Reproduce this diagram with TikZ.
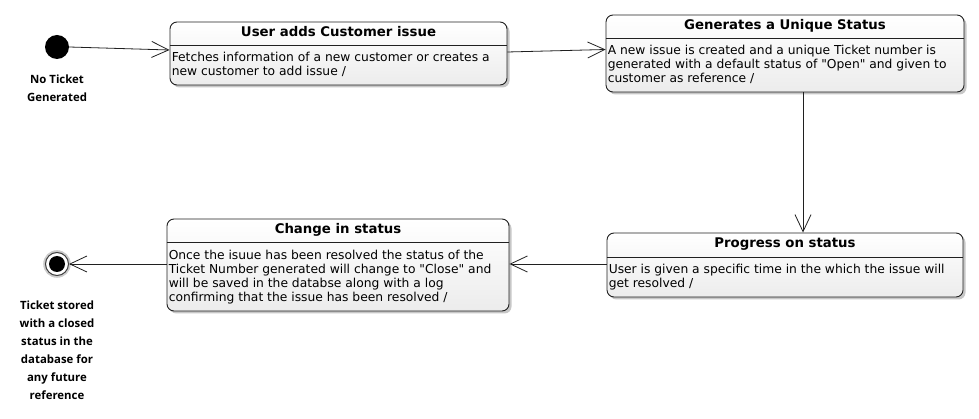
\documentclass[tikz,border=0pt]{standalone}
\usepackage{fontspec}
\setmainfont{DejaVu Sans}
\newfontfamily\labelfont{Open Sans}
\usetikzlibrary{arrows.meta,calc,shadows}
\definecolor{linec}{HTML}{202020}
\definecolor{boxbot}{HTML}{ECECEC}
\tikzset{
  statebox/.style={draw=linec, line width=0.9pt, rounded corners=7pt,
    top color=white, bottom color=boxbot, inner sep=0pt,
    drop shadow={shadow xshift=2.5pt, shadow yshift=-2.5pt, opacity=0.22, fill=black}},
  titletext/.style={anchor=base, inner sep=0pt, font=\fontsize{13.3}{16}\selectfont\bfseries},
  bodytext/.style={anchor=north west, inner sep=0pt, align=left, font=\fontsize{12.3}{14.2}\selectfont},
  lbl/.style={align=center, inner sep=0pt, font=\labelfont\fontsize{11.4}{18}\selectfont\bfseries},
  arr/.style={draw=linec, line width=0.8pt, -{Straight Barb[length=17pt,width=16pt,line width=0.8pt]}},
  divline/.style={draw=linec, line width=0.8pt}
}
\begin{document}
\begin{tikzpicture}[x=1pt,y=-1pt]
\useasboundingbox (0,0) rectangle (979,419);
% initial state
\node[circle, fill=black, minimum size=24pt, inner sep=0pt] (init) at (57,47) {};
\node[lbl] (initlbl) at (57,88) {No Ticket\\Generated};
% final state
\node[circle, draw=black!75, line width=1pt, fill=white, minimum size=23pt, inner sep=0pt,
  drop shadow={shadow xshift=0pt, shadow yshift=0pt, shadow scale=1.2, opacity=0.2, fill=black}] (final) at (57,264) {};
\node[circle, fill=black, minimum size=16pt, inner sep=0pt] (finalin) at (final) {};
\node[lbl, anchor=north] (finallbl) at (57,301) {Ticket stored\\with a closed\\status in the\\database for\\any future\\reference};
% box 1
\node[statebox, minimum width=337pt, minimum height=63pt] (b1) at (338.5,53.5) {};
\draw[divline] ($(b1.north west)+(0,24)$) -- ($(b1.north east)+(0,24)$);
\node[titletext] (t1) at ($(b1.north)+(0,14.5)$) {User adds Customer issue};
\node[bodytext] (d1) at ($(b1.north west)+(2,30.5)$) {Fetches information of a new customer or creates a\\new customer to add issue /};
% box 2
\node[statebox, minimum width=358pt, minimum height=77pt] (b2) at (785,53.5) {};
\draw[divline] ($(b2.north west)+(0,24)$) -- ($(b2.north east)+(0,24)$);
\node[titletext] (t2) at ($(b2.north)+(0,14.5)$) {Generates a Unique Status};
\node[bodytext] (d2) at ($(b2.north west)+(2,30.5)$) {A new issue is created and a unique Ticket number is\\generated with a default status of \textquotedbl Open\textquotedbl\ and given to\\customer as reference /};
% box 4
\node[statebox, minimum width=356pt, minimum height=64pt] (b4) at (785,265) {};
\draw[divline] ($(b4.north west)+(0,25)$) -- ($(b4.north east)+(0,25)$);
\node[titletext] (t4) at ($(b4.north)+(0,15)$) {Progress on status};
\node[bodytext] (d4) at ($(b4.north west)+(2,31.5)$) {User is given a specific time in the which the issue will\\get resolved /};
% box 3
\node[statebox, minimum width=342pt, minimum height=92pt] (b3) at (338,265) {};
\draw[divline] ($(b3.north west)+(0,24)$) -- ($(b3.north east)+(0,24)$);
\node[titletext] (t3) at ($(b3.north)+(0,14.5)$) {Change in status};
\node[bodytext] (d3) at ($(b3.north west)+(2,31)$) {Once the isuue has been resolved the status of the\\Ticket Number generated will change to \textquotedbl Close\textquotedbl\ and\\will be saved in the databse along with a log\\confirming that the issue has been resolved /};
% connectors
\draw[arr] (init.east) -- ($(b1.west)+(0,-3.5)$);
\draw[arr] ($(b1.east)+(0,-1.5)$) -- ($(b2.west)+(0,-4)$);
\draw[arr] ($(b2.south)+(18,0)$) -- ($(b4.north)+(18,0)$);
\draw[arr] ($(b4.west)+(0,-1)$) -- ($(b3.east)+(0,-1)$);
\draw[arr] ($(b3.west)+(0,-1)$) -- (final.east);
\end{tikzpicture}
\end{document}
